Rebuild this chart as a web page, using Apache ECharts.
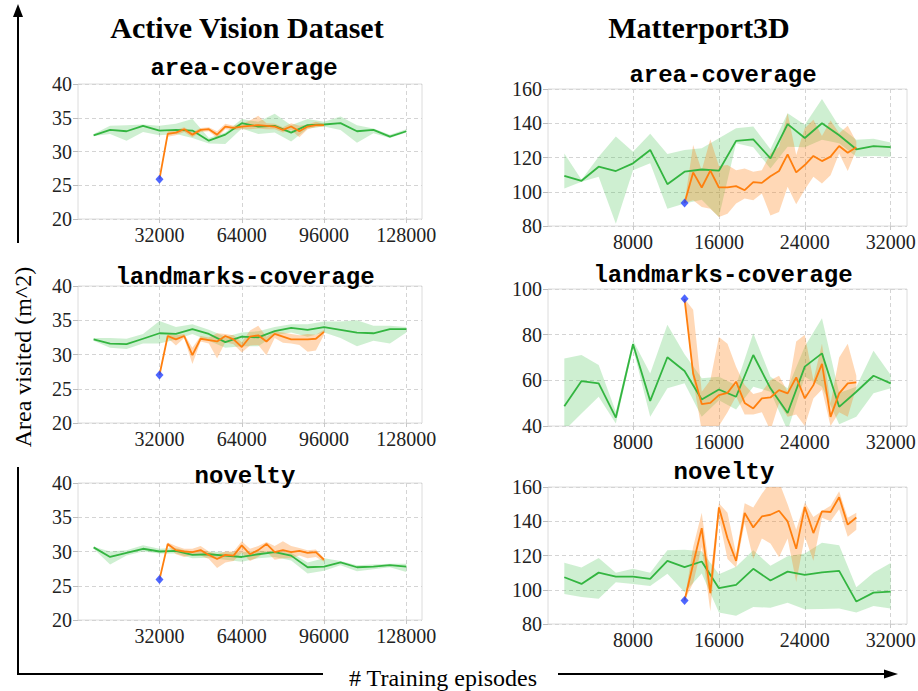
<!DOCTYPE html>
<html><head><meta charset="utf-8">
<script src="https://cdn.jsdelivr.net/npm/echarts@6/dist/echarts.min.js"></script>
<style>html,body{margin:0;padding:0;background:#fff}#c{width:918px;height:691px}</style>
</head><body><div id="c"></div>
<script>
// ---------- x positions (training episodes) ----------
const avdStepsGreen = [6400,12800,19200,25600,32000,38400,44800,51200,57600,64000,70400,76800,83200,89600,96000,102400,108800,115200,121600,128000];
const avdStepsOrange = [32000,35200,38400,41600,44800,48000,51200,54400,57600,60800,64000,67200,70400,73600,76800,80000,83200,86400,89600,92800,96000];
const mpStepsGreen = [1600,3200,4800,6400,8000,9600,11200,12800,14400,16000,17600,19200,20800,22400,24000,25600,27200,28800,30400,32000];
const mpStepsOrange = [12800,13600,14400,15200,16000,16800,17600,18400,19200,20000,20800,21600,22400,23200,24000,24800,25600,26400,27200,28000,28800];

// ---------- tick labels ----------
const avdTicks = [32000,64000,96000,128000];
const mpTicks = [8000,16000,24000,32000];

// ---------- titles ----------
const columnTitles = ['Active Vision Dataset','Matterport3D'];
const panelTitles = ['area-coverage','area-coverage','landmarks-coverage','landmarks-coverage','novelty','novelty'];
const yAxisTitle = 'Area visited (m^2)';
const xAxisTitle = '# Training episodes';

// ---------- AVD area-coverage ----------
const avdAreaGreen = [32.4,33.2,33.0,33.8,33.1,33.2,33.1,31.6,32.5,34.2,33.7,33.8,32.8,33.9,34.0,34.2,33.0,33.2,32.2,33.0];
const avdAreaGreenLo = [32.3,32.6,31.6,32.9,32.4,32.6,32.0,31.2,31.1,33.4,32.6,32.8,31.5,33.4,33.7,33.2,31.3,32.7,32.0,32.8];
const avdAreaGreenHi = [32.6,33.8,33.9,34.0,33.8,34.1,34.8,32.0,32.8,34.8,34.4,35.6,33.9,34.8,34.4,35.2,33.9,33.4,32.5,33.3];
const avdAreaOrange = [25.9,32.6,32.8,33.3,32.5,33.2,33.3,32.5,33.7,33.5,33.7,33.8,33.9,33.8,33.7,33.2,33.7,33.0,33.7,33.9,33.9];
const avdAreaOrangeLo = [25.9,32.2,32.4,32.9,32.1,32.9,33.0,32.0,33.3,33.2,33.3,33.3,33.4,33.3,33.3,32.8,33.2,32.1,33.3,33.6,33.7];
const avdAreaOrangeHi = [25.9,33.0,33.2,33.6,32.9,33.5,33.6,33.0,34.1,33.8,34.1,34.6,35.3,34.2,34.1,33.6,34.2,33.8,34.0,34.4,34.1];

// ---------- MP3D area-coverage ----------
const mpAreaGreen = [109.3,106.4,114.6,112.1,116.6,124.4,104.4,111.7,113.0,112.3,129.7,130.6,119.5,139.5,131.4,140.0,133.0,124.8,126.7,126.0];
const mpAreaGreenLo = [101.9,105.8,108.7,81.3,112.6,116.6,90.1,93.1,95.4,85.2,128.3,126.0,113.6,126.3,126.0,130.3,128.3,120.5,120.9,120.5];
const mpAreaGreenHi = [122.4,107.0,120.5,132.2,123.4,133.8,122.0,124.4,125.4,131.2,137.1,138.1,124.8,145.9,139.1,154.1,138.1,130.3,131.0,128.7];
const mpAreaOrange = [93.5,111.3,102.5,112.3,102.5,102.5,103.3,100.9,105.6,105.2,109.1,112.1,121.8,111.3,115.6,120.9,117.9,120.5,126.7,122.8,126.0];
const mpAreaOrangeLo = [93.5,95.0,91.1,90.1,85.2,87.2,93.1,96.0,95.0,99.0,86.2,88.2,102.9,92.7,101.3,108.7,104.8,109.7,122.4,112.1,124.4];
const mpAreaOrangeHi = [93.5,127.3,112.6,130.6,115.0,115.6,112.6,113.6,111.7,112.6,122.4,126.3,145.9,121.4,137.1,142.0,132.6,141.6,134.2,138.5,129.3];

// ---------- AVD landmarks-coverage ----------
const avdLmGreen = [32.2,31.6,31.5,32.3,33.1,33.0,33.7,33.0,31.8,32.6,32.5,33.4,33.9,33.6,34.0,33.6,33.2,33.1,33.7,33.7];
const avdLmGreenLo = [32.0,31.0,30.8,31.6,31.6,32.2,33.0,32.0,31.0,31.2,31.2,32.8,33.2,32.6,33.2,32.4,31.2,32.0,31.6,33.2];
const avdLmGreenHi = [32.4,32.4,32.3,33.0,34.9,34.0,34.4,33.6,32.6,33.2,33.4,34.0,34.4,34.4,34.8,34.8,35.0,34.2,34.2,34.0];
const avdLmOrange = [27.0,32.7,32.2,32.7,29.9,32.3,32.1,31.9,32.7,32.2,31.1,32.6,32.8,31.9,33.0,32.6,32.2,32.2,32.2,32.3,33.3];
const avdLmOrangeLo = [27.0,32.4,31.3,32.4,28.6,31.9,31.6,29.4,31.8,31.5,30.3,31.3,31.4,29.9,32.4,31.7,31.6,31.4,30.4,30.6,32.9];
const avdLmOrangeHi = [27.0,33.0,32.8,33.0,31.0,32.7,32.5,33.1,33.0,32.8,31.8,33.5,34.2,32.6,33.4,33.2,33.0,32.8,33.0,32.9,33.6];

// ---------- MP3D landmarks-coverage ----------
const mpLmGreen = [48.7,59.7,58.7,43.7,75.8,51.0,70.1,64.1,51.6,56.0,52.8,71.1,56.5,45.7,66.0,71.8,48.4,55.0,62.0,58.7];
const mpLmGreenLo = [38.0,45.5,52.8,41.1,74.0,44.0,56.5,58.7,44.0,51.3,47.2,57.2,55.0,38.0,61.6,57.2,40.8,44.0,54.3,56.5];
const mpLmGreenHi = [69.6,71.1,66.7,46.2,77.4,63.0,84.3,71.4,60.9,61.6,57.9,80.6,61.6,56.5,74.8,87.2,54.5,57.2,73.0,62.3];
const mpLmOrange = [95.7,63.0,49.6,50.1,53.5,54.5,59.4,50.1,47.7,52.1,52.5,55.7,54.3,61.3,52.1,57.9,67.2,44.0,54.3,58.7,59.1];
const mpLmOrangeLo = [95.7,60.1,38.0,40.0,40.0,46.0,53.0,45.0,45.0,46.0,38.0,50.0,44.0,45.0,40.0,52.0,56.0,40.0,46.0,44.0,57.0];
const mpLmOrangeHi = [95.7,90.9,55.0,60.0,79.0,76.0,66.0,58.0,54.0,55.0,60.0,62.0,55.0,77.0,80.0,60.0,76.0,50.0,70.0,76.0,62.0];

// ---------- AVD novelty ----------
const avdNovGreen = [30.6,29.2,29.8,30.4,30.0,30.1,29.5,29.6,29.4,29.2,29.6,29.9,29.4,27.7,27.8,28.4,27.7,27.8,28.0,27.8];
const avdNovGreenLo = [30.4,28.1,29.4,30.0,29.7,29.7,29.0,29.1,28.8,28.5,29.0,29.2,28.7,26.8,27.2,28.0,27.1,27.4,27.7,27.0];
const avdNovGreenHi = [30.7,30.0,30.2,30.9,30.4,30.5,29.9,30.0,29.9,29.9,30.1,30.0,29.8,28.4,29.0,28.6,28.0,28.1,28.2,28.2];
const avdNovOrange = [25.9,31.1,30.2,30.0,29.9,30.2,29.5,28.9,29.5,29.4,30.9,29.6,30.2,31.1,29.9,30.2,29.9,30.1,29.8,29.9,28.8];
const avdNovOrangeLo = [25.9,30.8,29.6,29.2,29.5,29.4,28.9,27.6,28.4,28.6,29.8,28.6,29.2,30.0,28.8,29.0,29.0,29.4,29.0,29.2,28.5];
const avdNovOrangeHi = [25.9,31.3,30.8,30.4,30.4,30.8,30.0,29.6,30.0,30.0,31.5,30.4,30.8,31.4,30.8,31.5,30.8,30.5,30.2,30.3,29.0];

// ---------- MP3D novelty ----------
const mpNovGreen = [107.3,103.4,110.0,107.7,107.7,106.3,116.9,113.2,116.5,100.9,102.8,112.2,105.4,110.6,108.7,110.2,111.0,93.1,98.3,98.9];
const mpNovGreenLo = [97.5,95.8,94.7,104.4,103.4,102.2,109.3,98.5,109.5,86.7,84.8,90.0,89.5,92.4,88.6,88.8,89.0,86.7,90.5,89.0];
const mpNovGreenHi = [115.7,113.0,118.6,110.0,112.2,110.0,123.0,123.4,122.5,109.0,113.5,123.0,114.0,119.5,121.2,127.5,126.0,101.5,110.0,115.6];
const mpNovOrange = [93.7,115.0,136.0,98.0,148.1,130.1,116.9,144.8,136.4,142.8,143.8,146.1,139.9,123.9,148.3,133.1,145.8,145.4,154.0,138.0,142.2];
const mpNovOrangeLo = [93.7,104.0,125.0,87.5,142.0,118.0,113.0,139.0,118.0,130.0,127.0,119.0,130.0,104.5,131.0,117.0,142.0,140.0,147.0,131.0,135.0];
const mpNovOrangeHi = [93.7,125.0,145.0,108.0,150.5,145.0,121.0,150.5,148.0,156.0,163.0,163.0,150.0,135.0,151.0,142.5,146.0,149.0,157.5,142.0,145.0];

// ---------- styling / layout ----------
const GREEN = '#33b540', GREEN_BAND = 'rgba(60,190,70,0.25)';
const ORANGE = '#ff7f0e', ORANGE_BAND = 'rgba(255,127,14,0.3)';
const BLUE = '#2040ff';
const SERIF = '"Liberation Serif","Times New Roman",serif';
const MONO = '"Liberation Mono","Courier New",monospace';

const avdX = {min: 320, max: 134080, ticks: avdTicks, gx: avdStepsGreen, ox: avdStepsOrange};
const mpX = {min: 80, max: 33520, ticks: mpTicks, gx: mpStepsGreen, ox: mpStepsOrange};

const panels = [
  {grid:[78,84,344,135], tc:[244,68], xs:avdX, y:[20,40,5], g:[avdAreaGreen,avdAreaGreenLo,avdAreaGreenHi], o:[avdAreaOrange,avdAreaOrangeLo,avdAreaOrangeHi]},
  {grid:[548,89,359,137], tc:[723,75], xs:mpX, y:[80,160,20], g:[mpAreaGreen,mpAreaGreenLo,mpAreaGreenHi], o:[mpAreaOrange,mpAreaOrangeLo,mpAreaOrangeHi]},
  {grid:[78,286,344,137], tc:[245,277], xs:avdX, y:[20,40,5], g:[avdLmGreen,avdLmGreenLo,avdLmGreenHi], o:[avdLmOrange,avdLmOrangeLo,avdLmOrangeHi]},
  {grid:[548,289,359,137], tc:[723,275], xs:mpX, y:[40,100,20], g:[mpLmGreen,mpLmGreenLo,mpLmGreenHi], o:[mpLmOrange,mpLmOrangeLo,mpLmOrangeHi]},
  {grid:[78,483,344,137], tc:[245,476], xs:avdX, y:[20,40,5], g:[avdNovGreen,avdNovGreenLo,avdNovGreenHi], o:[avdNovOrange,avdNovOrangeLo,avdNovOrangeHi]},
  {grid:[548,487,359,137], tc:[724,472], xs:mpX, y:[80,160,20], g:[mpNovGreen,mpNovGreenLo,mpNovGreenHi], o:[mpNovOrange,mpNovOrangeLo,mpNovOrangeHi]}
];

function bandSeries(i, xs, lo, hi, color) {
  return {
    type: 'custom', xAxisIndex: i, yAxisIndex: i, silent: true, z: 1, clip: true,
    data: xs.map((x, k) => [x, lo[k], hi[k]]),
    encode: {x: 0, y: [1, 2]},
    renderItem: function (params, api) {
      if (params.dataIndex !== 0) return null;
      const pts = [];
      for (let k = 0; k < xs.length; k++) pts.push(api.coord([xs[k], hi[k]]));
      for (let k = xs.length - 1; k >= 0; k--) pts.push(api.coord([xs[k], lo[k]]));
      const cs = params.coordSys;
      return {
        type: 'polygon', shape: {points: pts}, style: {fill: color, stroke: null},
        clipPath: {type: 'rect', shape: {x: cs.x, y: cs.y, width: cs.width, height: cs.height}}
      };
    }
  };
}

const plainNum = v => String(v);

const grids = [], xAxes = [], yAxes = [], series = [];
panels.forEach((p, i) => {
  grids.push({left: p.grid[0], top: p.grid[1], width: p.grid[2], height: p.grid[3],
    show: true, borderColor: '#dcdcdc', borderWidth: 1, backgroundColor: 'transparent',
    containLabel: false, outerBoundsMode: 'none'});
  xAxes.push({type: 'value', gridIndex: i, min: p.xs.min, max: p.xs.max,
    axisLine: {show: false},
    axisTick: {show: true, customValues: p.xs.ticks, length: 4, lineStyle: {color: '#c8c8c8'}},
    axisLabel: {customValues: p.xs.ticks, formatter: plainNum, fontFamily: SERIF, fontSize: 20, color: '#222', margin: 6},
    splitLine: {show: true, lineStyle: {color: '#d4d4d4', type: [4, 3], width: 1}}});
  yAxes.push({type: 'value', gridIndex: i, min: p.y[0], max: p.y[1], interval: p.y[2],
    axisLine: {show: false},
    axisTick: {show: true, length: 5, lineStyle: {color: '#bdbdbd'}},
    axisLabel: {formatter: plainNum, fontFamily: SERIF, fontSize: 20, color: '#222', margin: 6},
    splitLine: {show: true, lineStyle: {color: '#d4d4d4', type: [4, 3], width: 1}}});
  series.push(bandSeries(i, p.xs.gx, p.g[1], p.g[2], GREEN_BAND));
  series.push(bandSeries(i, p.xs.ox, p.o[1], p.o[2], ORANGE_BAND));
  series.push({type: 'line', xAxisIndex: i, yAxisIndex: i, z: 3, symbol: 'none', silent: true,
    data: p.xs.gx.map((x, k) => [x, p.g[0][k]]), lineStyle: {color: GREEN, width: 1.8}});
  series.push({type: 'line', xAxisIndex: i, yAxisIndex: i, z: 4, symbol: 'none', silent: true,
    data: p.xs.ox.map((x, k) => [x, p.o[0][k]]), lineStyle: {color: ORANGE, width: 1.8}});
  series.push({type: 'scatter', xAxisIndex: i, yAxisIndex: i, z: 5, silent: true,
    symbol: 'diamond', symbolSize: [8, 9], itemStyle: {color: BLUE},
    data: [[p.xs.ox[0], p.o[0][0]]]});
});

const graphic = [];
graphic.push({type: 'text', x: 247, y: 27, style: {text: columnTitles[0], font: 'bold 30px ' + SERIF, fill: '#000', align: 'center', verticalAlign: 'middle'}});
graphic.push({type: 'text', x: 699, y: 27, style: {text: columnTitles[1], font: 'bold 30px ' + SERIF, fill: '#000', align: 'center', verticalAlign: 'middle'}});
panels.forEach((p, i) => {
  graphic.push({type: 'text', x: p.tc[0], y: p.tc[1], z: 10, style: {text: panelTitles[i], font: 'bold 24px ' + MONO, fill: '#000', align: 'center', verticalAlign: 'middle'}});
});
graphic.push({type: 'text', x: 23, y: 357, rotation: Math.PI / 2, style: {text: yAxisTitle, font: '24px ' + SERIF, fill: '#000', align: 'center', verticalAlign: 'middle'}});
graphic.push({type: 'text', x: 443, y: 678, style: {text: xAxisTitle, font: '24px ' + SERIF, fill: '#000', align: 'center', verticalAlign: 'middle'}});
// arrows
graphic.push({type: 'line', shape: {x1: 18, y1: 243, x2: 18, y2: 14}, style: {stroke: '#000', lineWidth: 2}});
graphic.push({type: 'polygon', shape: {points: [[18, 4], [13, 17], [23, 17]]}, style: {fill: '#000'}});
graphic.push({type: 'polyline', shape: {points: [[18, 467], [18, 674], [323, 674]]}, style: {stroke: '#000', lineWidth: 2, fill: null}});
graphic.push({type: 'line', shape: {x1: 558, y1: 674, x2: 886, y2: 674}, style: {stroke: '#000', lineWidth: 2}});
graphic.push({type: 'polygon', shape: {points: [[898, 674], [884, 669.5], [884, 678.5]]}, style: {fill: '#000'}});

const chart = echarts.init(document.getElementById('c'), null, {renderer: 'svg', width: 918, height: 691});
chart.setOption({
  animation: false,
  backgroundColor: '#fff',
  grid: grids, xAxis: xAxes, yAxis: yAxes, series: series, graphic: graphic
});
</script></body></html>
